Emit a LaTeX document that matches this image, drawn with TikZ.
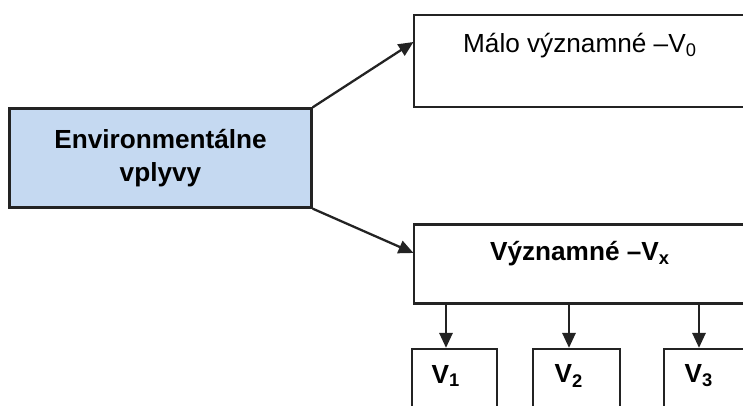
\documentclass[tikz,border=0pt]{standalone}
\usepackage{fontspec}
\setmainfont{Liberation Sans}
\usetikzlibrary{positioning,arrows.meta}
\definecolor{envblue}{RGB}{197,217,241}
\definecolor{inkgray}{RGB}{35,35,35}
\tikzset{
  box/.style={draw=inkgray, line width=1.3pt, rectangle, inner sep=0pt},
  arr/.style={draw=inkgray, line width=1.3pt, -{Triangle[length=8.5pt,width=7.5pt]}},
  big/.style={font=\fontsize{14.9}{18}\selectfont},
  bigb/.style={font=\fontsize{14.9}{18}\selectfont\bfseries},
}
\begin{document}
\begin{tikzpicture}[big]
            \useasboundingbox (0,0) rectangle (14.86,8.12);
            \clip (0,0) rectangle (14.86,8.12);

            % Left block
            \node[box, fill=envblue, minimum width=6.04cm, minimum height=1.98cm, align=center, font=\fontsize{14.9}{18.5}\selectfont\bfseries] (env) at (3.21,4.96) {Environmentálne\\vplyvy};

            % Right blocks
            \node[box, minimum width=6.68cm, minimum height=1.84cm] (v0) at (11.62,6.90) {};
            \node (v0t) at (11.60,7.20) {Málo významné –V\textsubscript{0}};
            \node[box, minimum width=6.68cm, minimum height=1.58cm] (vx) at (11.62,2.84) {};
            \node[bigb] (vxt) at (11.60,3.04) {Významné –V\textsubscript{x}};

            % Bottom blocks
            \node[box, minimum width=1.70cm, minimum height=1.4cm] (v1) at (9.09,0.44) {};
            \node[bigb] (v1t) at (8.92,0.60) {V\textsubscript{1}};
            \node[box, minimum width=1.74cm, minimum height=1.4cm] (v2) at (11.53,0.44) {};
            \node[bigb] (v2t) at (11.38,0.60) {V\textsubscript{2}};
            \node[box, minimum width=1.72cm, minimum height=1.4cm] (v3) at (14.14,0.44) {};
            \node[bigb] (v3t) at (13.98,0.60) {V\textsubscript{3}};

            % Arrows
            \coordinate (v0in) at (8.27,7.28);
            \coordinate (vxin) at (8.27,3.06);
            \draw[arr] (env.north east) -- (v0in);
            \draw[arr] (env.south east) -- (vxin);
            \draw[arr] (v1t |- vx.south) -- (v1t |- v1.north);
            \draw[arr] (v2t |- vx.south) -- (v2t |- v2.north);
            \draw[arr] (v3t |- vx.south) -- (v3t |- v3.north);
\end{tikzpicture}
\end{document}
